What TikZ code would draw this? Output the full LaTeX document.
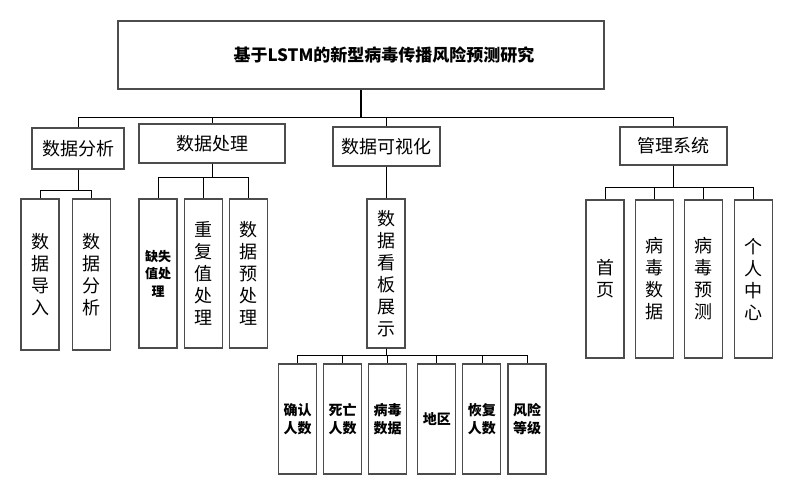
\documentclass[tikz,border=0pt]{standalone}
\usepackage{fontspec}
\setmainfont{Noto Sans CJK SC}
\usepackage{tikz}
\usetikzlibrary{positioning}

\tikzset{
    box/.style={draw=black!70, line width=1.1pt, inner sep=0pt, align=center, font=\fontsize{18}{22}\selectfont},
    leaf/.style={box, minimum width=38pt},
    smalltext/.style={font=\bfseries\fontsize{14}{18}\selectfont},
    link/.style={line width=0.8pt},
}

\begin{document}
\begin{tikzpicture}[x=1pt, y=-1pt]
    \useasboundingbox (0,0) rectangle (794,495);

    \node[box, minimum width=486pt, minimum height=68pt, font=\bfseries\fontsize{17}{20}\selectfont] (title) at (361,55) {\hspace*{46pt}基于LSTM的新型病毒传播风险预测研究};

    % second level
    \node[box, minimum width=92pt, minimum height=41pt] (analysis) at (78,148.5) {数据分析};
    \node[box, minimum width=146pt, minimum height=39pt] (process) at (212,143.5) {数据处理};
    \node[box, minimum width=107pt, minimum height=39pt] (visual) at (386.5,146.5) {数据可视化};
    \node[box, minimum width=107pt, minimum height=38pt] (manage) at (673.5,146) {管理系统};

    % leaves
    \node[leaf, minimum height=151pt] (import) at (40,274.5) {数\\据\\导\\入};
    \node[leaf, minimum height=151pt, right=12pt of import] (analyse) {数\\据\\分\\析};

    \node[leaf, minimum height=149pt, font=\bfseries\fontsize{13}{17.5}\selectfont] (missing) at (158,273.5) {缺失\\值处\\理};
    \node[leaf, minimum height=149pt, right=6pt of missing] (repeat) {重\\复\\值\\处\\理};
    \node[leaf, minimum height=149pt, right=6pt of repeat] (prepare) {数\\据\\预\\处\\理};

    \node[leaf, minimum height=149pt] (board) at (386,273.5) {数\\据\\看\\板\\展\\示};

    \node[leaf, minimum height=110pt, smalltext] (confirm) at (297.5,419) {确认\\人数};
    \node[leaf, minimum height=110pt, smalltext, right=6pt of confirm] (death) {死亡\\人数};
    \node[leaf, minimum height=110pt, smalltext, right=6pt of death] (virus) {病毒\\数据};
    \node[leaf, minimum height=110pt, smalltext, right=10pt of virus] (region) {地区};
    \node[leaf, minimum height=110pt, smalltext, right=6pt of region] (recover) {恢复\\人数};
    \node[leaf, minimum height=110pt, smalltext, right=6pt of recover] (risk) {风险\\等级};

    \node[leaf, minimum height=158pt] (home) at (605,279) {首\\页};
    \node[leaf, minimum height=158pt, right=10pt of home] (virusdata) {病\\毒\\数\\据};
    \node[leaf, minimum height=158pt, right=10pt of virusdata] (predict) {病\\毒\\预\\测};
    \node[leaf, minimum height=158pt, right=11pt of predict] (user) {个\\人\\中\\心};

    % bus lines
    \coordinate (bus_top) at (0,117);
    \coordinate (bus_ana) at (0,190);
    \coordinate (bus_proc) at (0,177);
    \coordinate (bus_board) at (0,355);
    \coordinate (bus_man) at (0,187);

    \draw[line width=1.6pt] (title.south) -- (title.south|-bus_top);
    \draw[link] (title.south|-bus_top) -| (analysis.north);
    \draw[link] (title.south|-bus_top) -| (process.north);
    \draw[link] (title.south|-bus_top) -| (visual.north);
    \draw[link] (title.south|-bus_top) -| (manage.north);

    \draw[link] (analysis.south) -- (analysis.south|-bus_ana) -| (import.north);
    \draw[link] (analysis.south) -- (analysis.south|-bus_ana) -| (analyse.north);

    \draw[link] (process.south) -- (process.south|-bus_proc) -| (missing.north);
    \draw[link] (process.south) -- (process.south|-bus_proc) -| (repeat.north);
    \draw[link] (process.south) -- (process.south|-bus_proc) -| (prepare.north);

    \draw[link] (visual.south) -- (visual.south|-board.north);

    \draw[link] (board.south) -- (board.south|-bus_board) -| (confirm.north);
    \draw[link] (board.south) -- (board.south|-bus_board) -| (death.north);
    \draw[link] (board.south) -- (board.south|-bus_board) -| (virus.north);
    \draw[link] (board.south) -- (board.south|-bus_board) -| (region.north);
    \draw[link] (board.south) -- (board.south|-bus_board) -| (recover.north);
    \draw[link] (board.south) -- (board.south|-bus_board) -| (risk.north);

    \draw[link] (manage.south) -- (manage.south|-bus_man) -| (home.north);
    \draw[link] (manage.south) -- (manage.south|-bus_man) -| (virusdata.north);
    \draw[link] (manage.south) -- (manage.south|-bus_man) -| (predict.north);
    \draw[link] (manage.south) -- (manage.south|-bus_man) -| (user.north);
\end{tikzpicture}
\end{document}
